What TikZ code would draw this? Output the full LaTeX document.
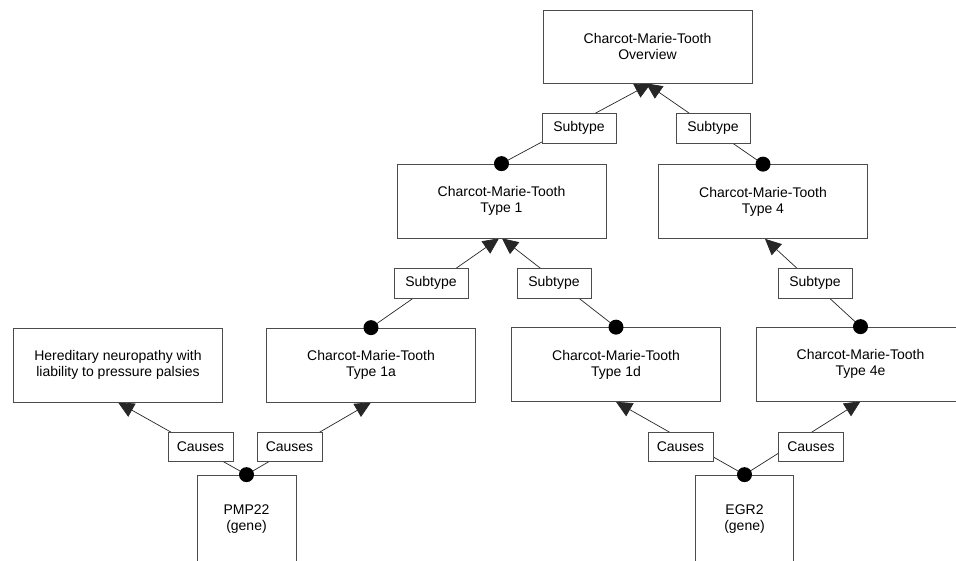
\documentclass[tikz,border=0pt]{standalone}
\usepackage{fontspec}
\setmainfont{Liberation Sans}
\usetikzlibrary{arrows.meta,calc,backgrounds}
\begin{document}
\begin{tikzpicture}[x=1pt,y=-1pt,
 box/.style={draw=black!70, line width=0.7pt, fill=white, minimum width=209pt, minimum height=74pt, align=center, inner sep=0pt, font=\fontsize{14}{16}\selectfont},
 lbl/.style={draw=black!70, line width=0.7pt, fill=white, minimum width=74pt, minimum height=30pt, inner sep=0pt, font=\fontsize{14}{16}\selectfont},
 cause/.style={lbl, minimum width=65pt, minimum height=29pt},
 conn/.style={draw=black!85, line width=0.7pt, -{Triangle[length=16pt,width=15pt]}},
 blob/.style={circle, fill=black, minimum size=15pt, inner sep=0pt}]
\useasboundingbox (0,0) rectangle (956,561);
\clip (0,0) rectangle (956,561);
% main boxes
\node[box, minimum height=73pt] (ov) at (647.5,46.5) {Charcot-Marie-Tooth\\Overview};
\node[box] (t1) at (501.5,201) {Charcot-Marie-Tooth\\Type 1};
\node[box] (t4) at (763,201.5) {Charcot-Marie-Tooth\\Type 4};
\node[box] (hn) at (118,365) {Hereditary neuropathy with\\liability to pressure palsies};
\node[box] (t1a) at (371,365) {Charcot-Marie-Tooth\\Type 1a};
\node[box] (t1d) at (616,364.5) {Charcot-Marie-Tooth\\Type 1d};
\node[box] (t4e) at (860.5,364) {Charcot-Marie-Tooth\\Type 4e};
\node[box, minimum width=99pt, minimum height=88pt] (pmp) at (246.5,519) {PMP22\\(gene)};
\node[box, minimum width=98pt, minimum height=88pt] (egr) at (744.5,519) {EGR2\\(gene)};
% relation labels
\node[lbl] (s1) at (579,128) {Subtype};
\node[lbl] (s2) at (713,128) {Subtype};
\node[lbl] (s3) at (431,283) {Subtype};
\node[lbl] (s4) at (554,283) {Subtype};
\node[lbl] (s5) at (815,283) {Subtype};
\node[cause] (c1) at (200.5,446.5) {Causes};
\node[cause] (c2) at (289.5,446.5) {Causes};
\node[cause] (c3) at (680.5,446.5) {Causes};
\node[cause] (c4) at (811,446.5) {Causes};
% arrow tip points
\coordinate (ovL) at ($(ov.south)+(3.5,0)$);
\coordinate (ovR) at ($(ov.south)+(-1.5,0)$);
\coordinate (t1L) at ($(t1.south)+(-2.5,0)$);
\coordinate (t1R) at ($(t1.south)+(0.5,0)$);
\coordinate (t4T) at ($(t4.south)+(2,0)$);
% connectors
\begin{pgfonlayer}{background}
\draw[conn] (t1.north) -- (ovL);
\draw[conn] (t4.north) -- (ovR);
\draw[conn] (t1a.north) -- (t1L);
\draw[conn] (t1d.north) -- (t1R);
\draw[conn] (t4e.north) -- (t4T);
\draw[conn] (pmp.north) -- (hn.south);
\draw[conn] (pmp.north) -- (t1a.south);
\draw[conn] (egr.north) -- (t1d.south);
\draw[conn] (egr.north) -- (t4e.south);
\end{pgfonlayer}
% source dots
\foreach \n in {t1,t4,t1a,t1d,t4e,pmp,egr}
  \node[blob] (d-\n) at (\n.north) {};
\end{tikzpicture}
\end{document}
